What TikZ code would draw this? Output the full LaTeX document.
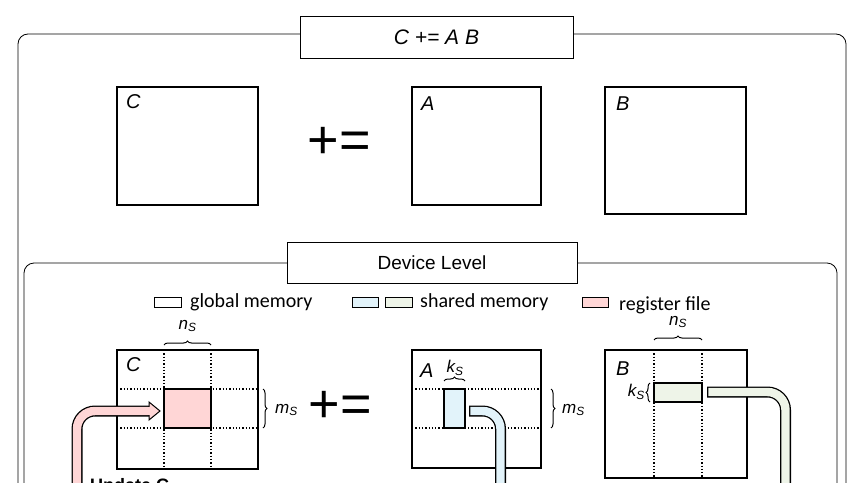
\documentclass[tikz,border=0pt]{standalone}
\usepackage{fontspec}
\setmainfont{Liberation Sans}
\newfontfamily\calib{Carlito}
\usetikzlibrary{decorations.pathreplacing}
\definecolor{pinkc}{HTML}{FFD6D6}
\definecolor{bluec}{HTML}{E2F3FA}
\definecolor{greenc}{HTML}{EEF4E8}
\begin{document}
\begin{tikzpicture}[x=1pt,y=-1pt,
  mat/.style={draw,line width=1.4pt},
  frame/.style={draw,line width=0.8pt,rounded corners=10pt},
  title/.style={draw,fill=white,line width=0.9pt,inner sep=0pt,font=\fontsize{19}{21}\selectfont},
  lab/.style={font=\fontsize{20}{22}\selectfont\itshape,anchor=north west,inner sep=0pt},
  small/.style={font=\calib\fontsize{20}{22}\selectfont,inner sep=0pt},
  ital/.style={inner sep=0pt,font=\fontsize{17}{19}\selectfont\itshape},
  dot/.style={line width=1.3pt,dotted},
  brc/.style={decorate,decoration={brace,amplitude=4pt},line width=1pt},
  pe/.style={font=\fontsize{54}{54}\selectfont},
  leg/.style={draw,line width=0.7pt}]
\useasboundingbox (0,0) rectangle (864,482);
\clip (0,0) rectangle (864,482);
% outer frame
\draw[frame] (18,600) -- (18,34) -- (846,34) -- (846,600);
\node[title,minimum width=273pt,minimum height=42pt,font=\fontsize{21}{23}\selectfont] (t1) at (436.5,37) {\itshape C += A B};
% top matrices
\draw[mat] (117,87) rectangle (258,205);
\node[lab] (lc) at (126,94) {C};
\draw[mat] (412,87) rectangle (541,205);
\node[lab] (la) at (421,97) {A};
\draw[mat] (605,87) rectangle (746,214);
\node[lab] (lb) at (616,97) {B};
\node[pe] (pe1) at (339,143) {+=};
% inner frame
\draw[frame] (24,600) -- (24,263) -- (837,263) -- (837,600);
\node[title,minimum width=290pt,minimum height=41pt] (t2) at (432,262.5) {Device Level};
% legend
\draw[leg] (154,297) rectangle (181,307);
\node[small,anchor=west] (g) at (190,302) {global memory};
\draw[leg,fill=bluec] (352,297) rectangle (378,307);
\draw[leg,fill=greenc] (385,297) rectangle (412,307);
\node[small,anchor=west] (s) at (420,302) {shared memory};
\draw[leg,fill=pinkc] (582,297) rectangle (608,307);
\node[small,anchor=west] (r) at (619,305) {register file};
% device C
\draw[fill=pinkc,line width=1.4pt] (164,389) rectangle (211,428);
\draw[dot] (164,350) -- (164,469) (211,350) -- (211,469) (117,389) -- (258,389) (117,428) -- (258,428);
\draw[mat] (117,350) rectangle (258,469);
\draw[line width=1.4pt] (164,389) rectangle (211,428);
\node[lab] (dc) at (126,357) {C};
\draw[brc] (164,345) -- (211,345);
\node[ital] (ns1) at (187.5,326) {n\textsubscript{S}};
\draw[brc] (263,389) -- (263,428);
\node[ital,anchor=west] (ms1) at (275,410) {m\textsubscript{S}};
\node[pe] (pe2) at (340,407) {+=};
% pink arrow pipe
\draw[line width=11pt,rounded corners=18pt] (77,500) -- (77,411) -- (150,411);
\draw[line width=8.4pt,pinkc,rounded corners=18pt] (77,500) -- (77,411) -- (151,411);
\draw[line width=1pt,fill=pinkc,line join=miter] (149,402) -- (160,411) -- (149,420) -- cycle;
\fill[pinkc] (145,407.2) rectangle (150,414.8);
\node[anchor=north west,inner sep=0pt,font=\fontsize{18}{20}\selectfont\bfseries] (upd) at (90,478) {Update C};
% device A
\draw[dot] (412,389) -- (541,389) (412,428) -- (541,428);
\draw[mat] (412,350) rectangle (541,468);
\draw[fill=bluec,line width=1.4pt] (444,389) rectangle (465,428);
\node[lab] (da) at (420,364) {A};
\draw[brc] (444,381) -- (465,381);
\node[ital] (ks1) at (455,368) {k\textsubscript{S}};
\draw[brc] (551,389) -- (551,428);
\node[ital,anchor=west] (ms2) at (562,410) {m\textsubscript{S}};
\draw[line width=11pt,rounded corners=18pt] (469,411) -- (500.5,411) -- (500.5,500);
\draw[line width=8.4pt,bluec,rounded corners=18pt] (470.3,411) -- (500.5,411) -- (500.5,500);
% device B
\draw[dot] (654,350) -- (654,478) (702,350) -- (702,478);
\draw[mat] (605,350) rectangle (747,478);
\draw[fill=greenc,line width=1.4pt] (654,383) rectangle (702,402);
\node[lab] (db) at (616,362) {B};
\draw[brc] (654,340) -- (702,340);
\node[ital] (ns2) at (678,322) {n\textsubscript{S}};
\draw[brc] (650,402) -- (650,383);
\node[ital,anchor=east] (ks2) at (645,392) {k\textsubscript{S}};
\draw[line width=11pt,rounded corners=18pt] (707,392) -- (785.5,392) -- (785.5,500);
\draw[line width=8.4pt,greenc,rounded corners=18pt] (708.3,392) -- (785.5,392) -- (785.5,500);
\end{tikzpicture}
\end{document}
